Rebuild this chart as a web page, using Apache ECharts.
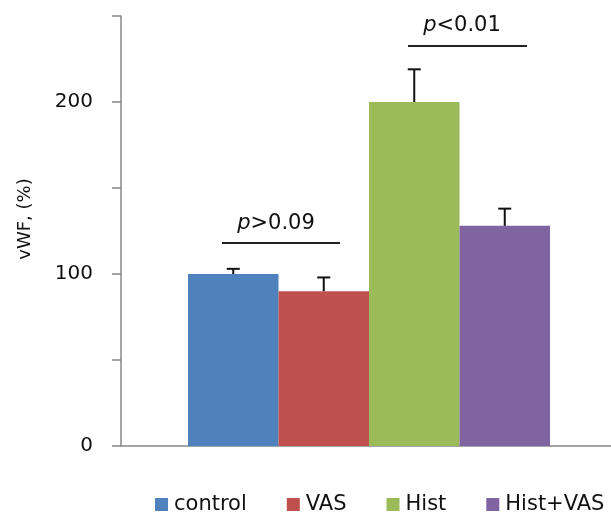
<!DOCTYPE html>
<html>
<head>
<meta charset="utf-8">
<script src="https://cdn.jsdelivr.net/npm/echarts@6/dist/echarts.min.js"></script>
<style>html,body{margin:0;padding:0;background:#fff;}#c{width:611px;height:513px;}</style>
</head>
<body>
<div id="c"></div>
<script>
const categories = ['vWF'];
const groups = ['control', 'VAS', 'Hist', 'Hist+VAS'];
const means = [100, 90, 200, 128];
const errors = [3, 8, 19, 10];
const yLabeled = [0, 100, 200];
const colors = ['#4F81BD', '#C0504D', '#9BBB59', '#8064A2'];
const BW = 90.5;
const FONT = 'DejaVu Sans';

const chart = echarts.init(document.getElementById('c'));
const barSeries = groups.map((g, i) => ({
  type: 'bar', name: g, data: [means[i]], barWidth: BW, barGap: 0,
  itemStyle: { color: colors[i] }
}));
const errSeries = {
  type: 'custom', name: 'err', z: 10, silent: true,
  data: means.map((m, i) => [0, m, errors[i], i]),
  renderItem: function (params, api) {
    const i = api.value(3);
    const base = api.coord([0, api.value(1)]);
    const top = api.coord([0, api.value(1) + api.value(2)]);
    const x = base[0] + (i - 1.5) * BW;
    const st = { stroke: '#111', lineWidth: 2 };
    return { type: 'group', children: [
      { type: 'line', shape: { x1: x, y1: base[1], x2: x, y2: top[1] }, style: st },
      { type: 'line', shape: { x1: x - 6.5, y1: top[1], x2: x + 6.5, y2: top[1] }, style: st }
    ]};
  }
};

chart.setOption({
  animation: false,
  color: colors,
  grid: { left: 121, width: 496, top: 16, height: 430, outerBoundsMode: 'none', containLabel: false },
  xAxis: {
    type: 'category', data: categories,
    axisLine: { lineStyle: { color: '#878787', width: 1.5 } },
    axisTick: { show: false }, axisLabel: { show: false }
  },
  yAxis: {
    type: 'value', min: 0, max: 250, interval: 50,
    splitLine: { show: false },
    axisLine: { show: true, lineStyle: { color: '#878787', width: 1.5 } },
    axisTick: { show: true, length: 9, lineStyle: { color: '#878787', width: 1.5 } },
    axisLabel: {
      margin: 28, fontFamily: FONT, fontSize: 20, color: '#111',
      formatter: v => yLabeled.indexOf(v) >= 0 ? String(v) : ''
    }
  },
  legend: {
    data: groups, left: 150, top: 489, itemWidth: 13, itemHeight: 13, itemGap: 40,
    icon: 'rect',
    textStyle: { fontFamily: FONT, fontSize: 21, color: '#111', padding: [0, 0, 0, 1] }
  },
  graphic: [
    { type: 'text', x: 25, y: 219, rotation: Math.PI / 2,
      style: { text: 'vWF, (%)', font: '18px "DejaVu Sans"', fill: '#111', align: 'center', verticalAlign: 'middle' } },
    { type: 'text', x: 276, y: 224,
      style: { text: '{i|p}>0.09', font: '21px "DejaVu Sans"', fill: '#111', align: 'center', verticalAlign: 'middle',
        rich: { i: { fontStyle: 'italic', fontFamily: FONT, fontSize: 21, fill: '#111' } } } },
    { type: 'line', shape: { x1: 222, y1: 243, x2: 340, y2: 243 }, style: { stroke: '#222', lineWidth: 2 } },
    { type: 'text', x: 462, y: 26,
      style: { text: '{i|p}<0.01', font: '21px "DejaVu Sans"', fill: '#111', align: 'center', verticalAlign: 'middle',
        rich: { i: { fontStyle: 'italic', fontFamily: FONT, fontSize: 21, fill: '#111' } } } },
    { type: 'line', shape: { x1: 408, y1: 46, x2: 527, y2: 46 }, style: { stroke: '#222', lineWidth: 2 } }
  ],
  series: barSeries.concat([errSeries])
});
</script>
</body>
</html>
